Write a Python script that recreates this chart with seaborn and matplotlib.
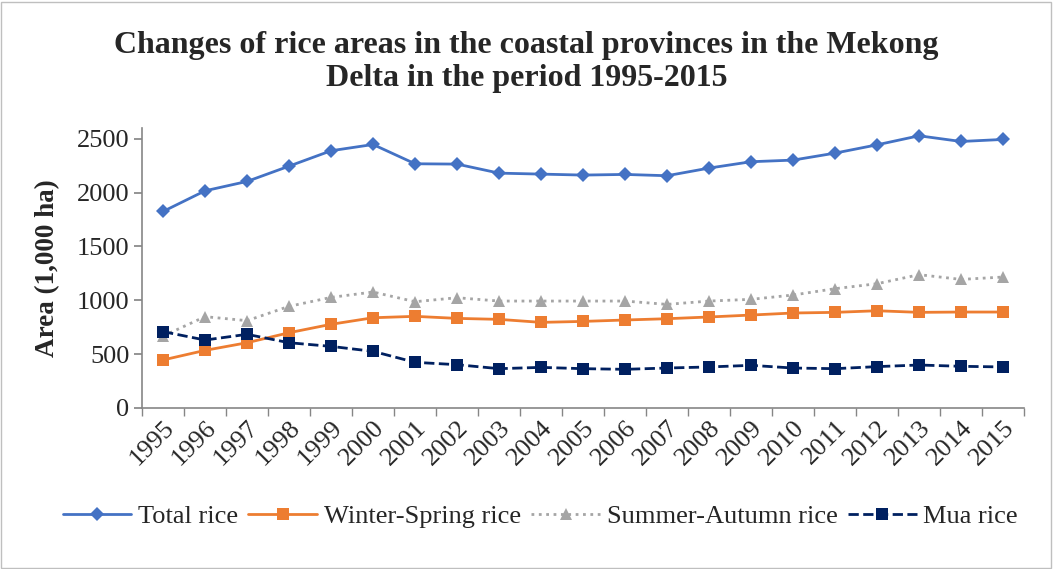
#%% Rice area in the coastal provinces of the Mekong Delta, 1995-2015
import pandas as pd
import seaborn as sns
import matplotlib.pyplot as plt
from matplotlib.patches import Rectangle

#%% Data (1,000 ha)

anos = list(range(1995, 2016))
total = [1825, 2017, 2104, 2246, 2389, 2447, 2268, 2265, 2181, 2172, 2163,
         2169, 2157, 2228, 2287, 2302, 2367, 2444, 2528, 2475, 2494]
winter_spring = [446, 535, 606, 699, 777, 838, 851, 832, 823, 795, 804,
                 817, 829, 845, 863, 882, 888, 903, 888, 891, 891]
summer_autumn = [668, 848, 811, 944, 1027, 1077, 987, 1024, 993, 993, 993,
                 993, 962, 993, 1009, 1049, 1108, 1154, 1238, 1194, 1216]
mua = [709, 631, 684, 606, 572, 526, 424, 402, 365, 377, 365,
       359, 371, 381, 396, 371, 365, 384, 399, 387, 381]

series = ['Total rice', 'Winter-Spring rice', 'Summer-Autumn rice', 'Mua rice']

df = pd.DataFrame({'Ano': anos * 4,
                   'Area': total + winter_spring + summer_autumn + mua,
                   'Serie': sum([[s] * len(anos) for s in series], [])})

#%% Estilo

sns.set_theme(style='white')
plt.rcParams['font.family'] = ['Liberation Serif', 'DejaVu Serif']

estilos = {
    'Total rice': dict(color='#4472C4', marker='D', ls='-', ms=7.5),
    'Winter-Spring rice': dict(color='#ED7D31', marker='s', ls='-', ms=8.5),
    'Summer-Autumn rice': dict(color='#A5A5A5', marker='^', ls=':', ms=8.5),
    'Mua rice': dict(color='#002060', marker='s', ls='--', ms=8.5),
}

fig = plt.figure(figsize=(10.53, 5.69), dpi=100)
ax = fig.add_axes([0.1349, 0.283, 0.8376, 0.492])

for s in series:
    e = estilos[s]
    sns.lineplot(data=df[df['Serie'] == s], x='Ano', y='Area', ax=ax,
                 color=e['color'], marker=e['marker'], linestyle=e['ls'],
                 markersize=e['ms'], markeredgewidth=0, linewidth=2,
                 label=s, errorbar=None)

#%% Eixos

ax.set_xlim(1994.5, 2015.5)
ax.set_ylim(0, 2600)
ax.set_yticks(range(0, 2501, 500))
ax.set_xticks(anos)
ax.set_xticklabels([str(a) for a in anos], rotation=45, ha='right',
                   rotation_mode='anchor', fontsize=19)
ax.set_xticks([a - 0.5 for a in anos] + [2015.5], minor=True)
ax.tick_params(axis='x', which='major', length=0, pad=6)
ax.tick_params(axis='x', which='minor', length=6, color='#868686',
               direction='out', bottom=True)
ax.tick_params(axis='y', labelsize=19, length=6, color='#868686',
               direction='out', left=True, pad=3)

for lado in ['top', 'right']:
    ax.spines[lado].set_visible(False)
for lado in ['left', 'bottom']:
    ax.spines[lado].set_color('#868686')
    ax.spines[lado].set_linewidth(1.2)

ax.set_xlabel('')
ax.set_ylabel('Area (1,000 ha)', fontsize=19.5, fontweight='bold', labelpad=12)

fig.suptitle('Changes of rice areas in the coastal provinces in the Mekong\n'
             'Delta in the period 1995-2015',
             fontsize=23, fontweight='bold', y=0.945, linespacing=1.15)

ax.legend(loc='center', bbox_to_anchor=(0.513, 0.093), bbox_transform=fig.transFigure,
          ncol=4, frameon=False, fontsize=19, handlelength=2.6, columnspacing=0.4,
          handletextpad=0.25, borderpad=0, borderaxespad=0)

fig.patches.append(Rectangle((0.001, 0.002), 0.997, 0.995, transform=fig.transFigure,
                             fill=False, edgecolor='#BFBFBF', linewidth=1))

plt.savefig('out.png', dpi=100)
